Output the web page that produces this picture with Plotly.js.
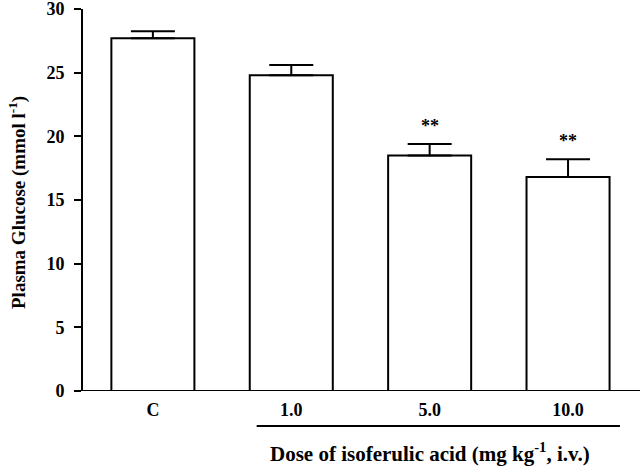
<!DOCTYPE html>
<html>
<head>
<meta charset="utf-8">
<script src="https://cdn.plot.ly/plotly-3.0.1.min.js"></script>
<style>
  body { margin: 0; background: #fff; }
  #chart { width: 640px; height: 467px; }
</style>
</head>
<body>
<div id="chart"></div>
<script>
// values
var doses = ['C', '1.0', '5.0', '10.0'];
var glucose = [27.7, 24.8, 18.5, 16.8];
var sem = [0.55, 0.8, 0.9, 1.4];
var signif = ['', '', '**', '**'];
var yTicks = [0, 5, 10, 15, 20, 25, 30];

var serif = 'Liberation Serif, Times New Roman, serif';
var barWidth = 0.6;

var idx = doses.map(function (d, i) { return i; });

var trace = {
    type: 'bar',
    x: idx,
    y: glucose,
    width: barWidth,
    marker: { color: 'white', line: { color: 'black', width: 2 } },
    error_y: { type: 'data', array: sem, arrayminus: sem.map(function () { return 0; }),
               symmetric: false, color: 'black', thickness: 2, width: 22 },
    hoverinfo: 'x+y'
};

// significance stars above the error bars
var annos = [];
signif.forEach(function (s, i) {
    if (!s) return;
    annos.push({
        x: i, y: glucose[i] + sem[i], xref: 'x', yref: 'y',
        text: '<b>' + s + '</b>', showarrow: false, yanchor: 'bottom', yshift: 6,
        font: { family: serif, size: 18, color: 'black' }
    });
});

// x-axis caption sits under the dose groups only
annos.push({
    x: (1 + doses.length - 1) / 2, xref: 'x', y: 0, yref: 'paper',
    yshift: -61, yanchor: 'middle', showarrow: false,
    text: '<b>Dose of isoferulic acid (mg kg<sup>-1</sup>, i.v.)</b>',
    font: { family: serif, size: 21, color: 'black' }
});

// y-axis title placed by hand so it sits at the far left
annos.push({
    x: 0, xref: 'paper', xshift: -66, y: 0.5, yref: 'paper', yshift: -3,
    textangle: -90, showarrow: false, xanchor: 'center', yanchor: 'middle',
    text: '<b>Plasma Glucose (mmol l<sup>-1</sup>)</b>',
    font: { family: serif, size: 19, color: 'black' }
});

var layout = {
    width: 640,
    height: 467,
    margin: { l: 83, r: 0, t: 9, b: 76 },
    paper_bgcolor: 'white',
    plot_bgcolor: 'white',
    showlegend: false,
    font: { family: serif, color: 'black' },
    xaxis: {
        range: [-0.505, 3.52],
        tickvals: idx,
        ticktext: doses.map(function (d) { return '<b>' + d + '</b>'; }),
        tickfont: { family: serif, size: 18, color: 'black' },
        ticks: '', ticklabelstandoff: 6,
        showgrid: false, zeroline: false,
        showline: false, fixedrange: true
    },
    yaxis: {
        range: [0, 30],
        tickvals: yTicks,
        ticktext: yTicks.map(function (t) { return '<b>' + t + '</b>'; }),
        tickfont: { family: serif, size: 18, color: 'black' },
        ticklabeloverflow: 'allow',
        ticks: 'outside', ticklen: 7, tickwidth: 2, tickcolor: 'black',
        ticklabelstandoff: 6,
        showline: true, linewidth: 2, linecolor: 'black',
        showgrid: false, zeroline: false
    },
    shapes: [
        // baseline of the plot
        { type: 'line', xref: 'paper', yref: 'y', x0: -0.011, x1: 1, y0: 0, y1: 0,
          line: { color: 'black', width: 2 } },
        // bracket line under the dose labels
        { type: 'line', xref: 'x', yref: 'paper',
          x0: 1 - barWidth / 2 + 0.05, x1: doses.length - 1 + barWidth / 2 + 0.075,
          y0: 0, y1: 0, ysizemode: 'pixel', yanchor: 0,
          line: { color: 'black', width: 2 } }
    ],
    annotations: annos
};

// pixel placement for the bracket line (35 px under the axis)
layout.shapes[1].y0 = -35;
layout.shapes[1].y1 = -35;

Plotly.newPlot('chart', [trace], layout, { displayModeBar: false, staticPlot: true });
</script>
</body>
</html>
